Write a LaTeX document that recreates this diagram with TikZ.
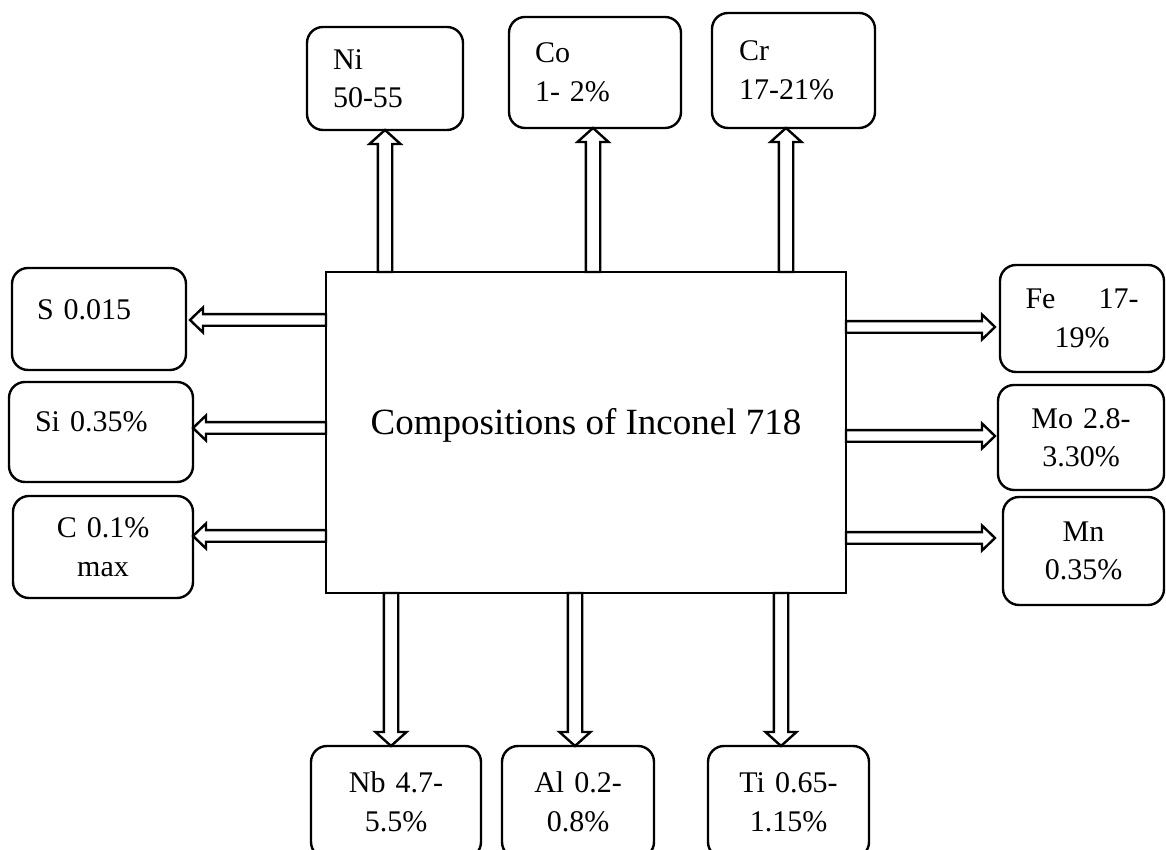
\documentclass[tikz,border=0pt]{standalone}
\usepackage{fontspec}
\setmainfont{Liberation Serif}
\usetikzlibrary{calc}
\tikzset{
  box/.style={draw, line width=2.4pt, rounded corners=16pt, inner sep=0pt, outer sep=0pt,
              font=\fontsize{30}{38.5}\selectfont},
  mainbox/.style={draw, line width=2.4pt, inner sep=0pt, outer sep=0pt,
              font=\fontsize{37}{44}\selectfont},
  hollow/.style n args={3}{to path={
      let \p1=(\tikztostart), \p2=(\tikztotarget),
          \n1={atan2(\y2-\y1,\x2-\x1)},
          \n2={veclen(\x2-\x1,\y2-\y1)-#3} in
      ($(\p1)+(\n1+90:#1)$) -- ++(\n1:\n2) -- ++(\n1+90:#2-#1) -- (\p2)
      -- ($(\p2)+(\n1+180:#3)+(\n1-90:#2)$) -- ++(\n1+90:#2-#1)
      -- ($(\p1)+(\n1-90:#1)$) -- cycle}},
  varrow/.style={draw, fill=white, line width=2.4pt, hollow={7.2}{15.5}{14}},
  harrow/.style={draw, fill=white, line width=2.4pt, hollow={5.8}{12.5}{13}},
}
\begin{document}
\begin{tikzpicture}[x=1pt,y=1pt]
\useasboundingbox (0,0) rectangle (1166,850);
\clip (0,0) rectangle (1166,850);

% central box
\node[mainbox, minimum width=520pt, minimum height=321pt, text height=25pt, text depth=20pt]
  (main) at (586,417.5) {Compositions of Inconel 718};

% top boxes
\node[box, minimum width=156pt, minimum height=103pt, text width=104pt, align=left]
  (ni) at (385,771.5) {Ni\\50-55};
\node[box, minimum width=172pt, minimum height=111pt, text width=120pt, align=left]
  (co) at (595,777.5) {Co\\1- 2\%};
\node[box, minimum width=163pt, minimum height=115pt, text width=109pt, align=left]
  (cr) at (793.5,779.5) {Cr\\17-21\%};

% left boxes
\node[box, minimum width=174pt, minimum height=102pt, text width=124pt, align=left,
      text height=21pt, text depth=19pt]
  (s) at (99,531) {S 0.015};
\node[box, minimum width=184pt, minimum height=100pt, text width=132pt, align=left,
      text height=20pt, text depth=20pt]
  (si) at (101,418) {Si 0.35\%};
\node[box, minimum width=180pt, minimum height=102pt, text width=150pt, align=center]
  (c) at (103,303) {C 0.1\%\\max};

% right boxes
\node[box, minimum width=164pt, minimum height=107pt, text width=140pt, align=center]
  (fe) at (1082,531.5) {Fe\hspace{43pt}17-\\19\%};
\node[box, minimum width=166pt, minimum height=105pt, text width=140pt, align=center]
  (mo) at (1081,412.5) {Mo 2.8-\\3.30\%};
\node[box, minimum width=161pt, minimum height=108pt, text width=140pt, align=center]
  (mn) at (1083.5,299) {Mn\\0.35\%};

% bottom boxes
\node[box, minimum width=170pt, minimum height=112pt, text width=150pt, align=center]
  (nb) at (396,48) {Nb 4.7-\\5.5\%};
\node[box, minimum width=152pt, minimum height=112pt, text width=140pt, align=center]
  (al) at (578,48) {Al 0.2-\\0.8\%};
\node[box, minimum width=161pt, minimum height=112pt, text width=140pt, align=center]
  (ti) at (788.5,48) {Ti 0.65-\\1.15\%};

% arrow end points
\coordinate (niA) at (ni.south);
\coordinate (coA) at ([xshift=-2pt]co.south);
\coordinate (crA) at ([xshift=-7.5pt]cr.south);
\coordinate (sA)  at ([xshift=4pt,yshift=-1pt]s.east);
\coordinate (siA) at ([yshift=4pt]si.east);
\coordinate (cA)  at ([yshift=11pt]c.east);
\coordinate (feA) at ([xshift=-5pt,yshift=-8.5pt]fe.west);
\coordinate (moA) at ([xshift=-3pt,yshift=1.5pt]mo.west);
\coordinate (mnA) at ([xshift=-8pt,yshift=13pt]mn.west);
\coordinate (nbA) at ([xshift=-5pt]nb.north);
\coordinate (alA) at ([xshift=-3pt]al.north);
\coordinate (tiA) at ([xshift=-7.5pt]ti.north);

% arrows
\draw[varrow] (niA |- main.north) to (niA);
\draw[varrow] (coA |- main.north) to (coA);
\draw[varrow] (crA |- main.north) to (crA);
\draw[harrow] (main.west |- sA) to (sA);
\draw[harrow] (main.west |- siA) to (siA);
\draw[harrow] (main.west |- cA) to (cA);
\draw[harrow] (main.east |- feA) to (feA);
\draw[harrow] (main.east |- moA) to (moA);
\draw[harrow] (main.east |- mnA) to (mnA);
\draw[varrow] (nbA |- main.south) to (nbA);
\draw[varrow] (alA |- main.south) to (alA);
\draw[varrow] (tiA |- main.south) to (tiA);
\end{tikzpicture}
\end{document}
